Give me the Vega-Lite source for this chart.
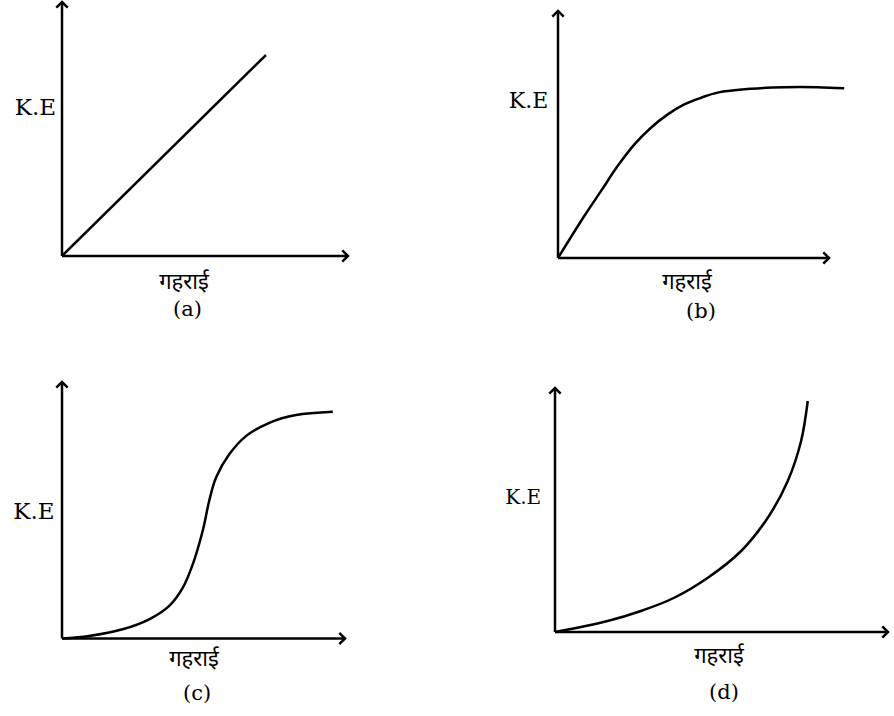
{
  "$schema": "https://vega.github.io/schema/vega-lite/v6.json",
  "background": "white",
  "padding": {"left": 12, "top": -3, "right": 4, "bottom": 8},
  "bounds": "flush",
  "columns": 2,
  "spacing": {"row": 124, "column": 210},
  "config": {
    "view": {"stroke": null},
    "title": {"font": "DejaVu Serif", "fontSize": 21, "fontWeight": "normal", "color": "black", "orient": "bottom", "anchor": "start", "frame": "group"},
    "line": {"color": "black", "strokeWidth": 2.5, "interpolate": "catmull-rom"},
    "rule": {"color": "black", "strokeWidth": 2.5},
    "point": {"filled": false, "color": "black", "strokeWidth": 2.5, "size": 130, "opacity": 1, "strokeJoin": "miter"}
  },
  "concat": [
    {
      "width": 286, "height": 254,
      "title": {"text": "(a)", "dx": 111, "offset": 7},
      "encoding": {
        "x": {"field": "depth", "type": "quantitative", "scale": {"domain": [0, 100], "nice": false, "zero": false},
          "axis": {"title": "गहराई", "domain": false, "ticks": false, "labels": false, "grid": false, "titleX": 121.5, "titleY": 25, "titleAlign": "center", "titleBaseline": "middle", "titleFont": "Noto Sans Devanagari, Lohit Devanagari, Noto Sans, sans-serif", "titleFontSize": 22, "titleFontWeight": "normal", "titleColor": "black"}},
        "y": {"field": "ke", "type": "quantitative", "scale": {"domain": [0, 100], "nice": false, "zero": false},
          "axis": {"title": "K.E", "domain": false, "ticks": false, "labels": false, "grid": false, "titleAngle": 0, "titleX": -27, "titleY": 105.5, "titleAlign": "center", "titleBaseline": "middle", "titleFont": "DejaVu Serif", "titleFontSize": 23, "titleFontWeight": "normal", "titleColor": "black"}}
      },
      "layer": [
        {
          "data": {"values": [
            {"axis": "x", "depth": 0, "ke": 0, "depth2": 100, "ke2": 0},
            {"axis": "y", "depth": 0, "ke": 0, "depth2": 0, "ke2": 100}
          ]},
          "mark": "rule",
          "encoding": {"x2": {"field": "depth2"}, "y2": {"field": "ke2"}}
        },
        {
          "data": {"values": [
            {"axis": "x", "depth": 100, "ke": 0},
            {"axis": "y", "depth": 0, "ke": 100}
          ]},
          "mark": "point",
          "encoding": {"shape": {"field": "axis", "type": "nominal", "legend": null,
            "scale": {"domain": ["x", "y"], "range": ["M-1,-1L0,0L-1,1", "M-1,1L0,0L1,1"]}}}
        },
        {
          "data": {"values": [
            {"depth": 0, "ke": 0},
            {"depth": 71.3, "ke": 79.1}
          ]},
          "mark": {"type": "line", "interpolate": "linear"}
        }
      ]
    },
    {
      "width": 271, "height": 256,
      "title": {"text": "(b)", "dx": 128, "offset": 9},
      "encoding": {
        "x": {"field": "depth", "type": "quantitative", "scale": {"domain": [0, 100], "nice": false, "zero": false},
          "axis": {"title": "गहराई", "domain": false, "ticks": false, "labels": false, "grid": false, "titleX": 128.5, "titleY": 23, "titleAlign": "center", "titleBaseline": "middle", "titleFont": "Noto Sans Devanagari, Lohit Devanagari, Noto Sans, sans-serif", "titleFontSize": 22, "titleFontWeight": "normal", "titleColor": "black"}},
        "y": {"field": "ke", "type": "quantitative", "scale": {"domain": [0, 100], "nice": false, "zero": false},
          "axis": {"title": "K.E", "domain": false, "ticks": false, "labels": false, "grid": false, "titleAngle": 0, "titleX": -30, "titleY": 98, "titleAlign": "center", "titleBaseline": "middle", "titleFont": "DejaVu Serif", "titleFontSize": 22, "titleFontWeight": "normal", "titleColor": "black"}}
      },
      "layer": [
        {
          "data": {"values": [
            {"axis": "x", "depth": 0, "ke": 0, "depth2": 100, "ke2": 0},
            {"axis": "y", "depth": 0, "ke": 0, "depth2": 0, "ke2": 96.5}
          ]},
          "mark": "rule",
          "encoding": {"x2": {"field": "depth2"}, "y2": {"field": "ke2"}}
        },
        {
          "data": {"values": [
            {"axis": "x", "depth": 100, "ke": 0},
            {"axis": "y", "depth": 0, "ke": 96.5}
          ]},
          "mark": "point",
          "encoding": {"shape": {"field": "axis", "type": "nominal", "legend": null,
            "scale": {"domain": ["x", "y"], "range": ["M-1,-1L0,0L-1,1", "M-1,1L0,0L1,1"]}}}
        },
        {
          "data": {"values": [
            {"depth": 0, "ke": 0},
            {"depth": 9.7, "ke": 16.4},
            {"depth": 15.9, "ke": 26.2},
            {"depth": 22.0, "ke": 35.9},
            {"depth": 28.2, "ke": 44.4},
            {"depth": 34.3, "ke": 50.9},
            {"depth": 40.5, "ke": 56.1},
            {"depth": 46.6, "ke": 60.0},
            {"depth": 52.8, "ke": 62.6},
            {"depth": 58.9, "ke": 64.6},
            {"depth": 71.2, "ke": 66.1},
            {"depth": 83.5, "ke": 66.7},
            {"depth": 95.8, "ke": 66.7},
            {"depth": 105.6, "ke": 66.3}
          ]},
          "mark": "line"
        }
      ]
    },
    {
      "width": 283, "height": 256.5,
      "title": {"text": "(c)", "dx": 121, "offset": 13},
      "encoding": {
        "x": {"field": "depth", "type": "quantitative", "scale": {"domain": [0, 100], "nice": false, "zero": false},
          "axis": {"title": "गहराई", "domain": false, "ticks": false, "labels": false, "grid": false, "titleX": 131.5, "titleY": 20, "titleAlign": "center", "titleBaseline": "middle", "titleFont": "Noto Sans Devanagari, Lohit Devanagari, Noto Sans, sans-serif", "titleFontSize": 22, "titleFontWeight": "normal", "titleColor": "black"}},
        "y": {"field": "ke", "type": "quantitative", "scale": {"domain": [0, 100], "nice": false, "zero": false},
          "axis": {"title": "K.E", "domain": false, "ticks": false, "labels": false, "grid": false, "titleAngle": 0, "titleX": -28.5, "titleY": 129, "titleAlign": "center", "titleBaseline": "middle", "titleFont": "DejaVu Serif", "titleFontSize": 23, "titleFontWeight": "normal", "titleColor": "black"}}
      },
      "layer": [
        {
          "data": {"values": [
            {"axis": "x", "depth": 0, "ke": 0, "depth2": 100, "ke2": 0},
            {"axis": "y", "depth": 0, "ke": 0, "depth2": 0, "ke2": 100}
          ]},
          "mark": "rule",
          "encoding": {"x2": {"field": "depth2"}, "y2": {"field": "ke2"}}
        },
        {
          "data": {"values": [
            {"axis": "x", "depth": 100, "ke": 0},
            {"axis": "y", "depth": 0, "ke": 100}
          ]},
          "mark": "point",
          "encoding": {"shape": {"field": "axis", "type": "nominal", "legend": null,
            "scale": {"domain": ["x", "y"], "range": ["M-1,-1L0,0L-1,1", "M-1,1L0,0L1,1"]}}}
        },
        {
          "data": {"values": [
            {"depth": 0, "ke": 0},
            {"depth": 9.6, "ke": 1.0},
            {"depth": 21.4, "ke": 3.6},
            {"depth": 30.8, "ke": 7.5},
            {"depth": 37.9, "ke": 12.7},
            {"depth": 42.7, "ke": 19.8},
            {"depth": 46.2, "ke": 28.9},
            {"depth": 49.7, "ke": 41.9},
            {"depth": 52.0, "ke": 53.6},
            {"depth": 54.4, "ke": 62.7},
            {"depth": 59.1, "ke": 71.8},
            {"depth": 65.0, "ke": 78.9},
            {"depth": 73.3, "ke": 84.1},
            {"depth": 82.7, "ke": 87.1},
            {"depth": 95.7, "ke": 88.4}
          ]},
          "mark": "line"
        }
      ]
    },
    {
      "width": 330, "height": 250,
      "title": {"text": "(d)", "dx": 151, "offset": 16},
      "encoding": {
        "x": {"field": "depth", "type": "quantitative", "scale": {"domain": [0.9, 100], "nice": false, "zero": false},
          "axis": {"title": "गहराई", "domain": false, "ticks": false, "labels": false, "grid": false, "titleX": 160.5, "titleY": 23, "titleAlign": "center", "titleBaseline": "middle", "titleFont": "Noto Sans Devanagari, Lohit Devanagari, Noto Sans, sans-serif", "titleFontSize": 22, "titleFontWeight": "normal", "titleColor": "black"}},
        "y": {"field": "ke", "type": "quantitative", "scale": {"domain": [0, 100], "nice": false, "zero": false},
          "axis": {"title": "K.E", "domain": false, "ticks": false, "labels": false, "grid": false, "titleAngle": 0, "titleX": -35.3, "titleY": 115.7, "titleAlign": "center", "titleBaseline": "middle", "titleFont": "DejaVu Serif", "titleFontSize": 20, "titleFontWeight": "normal", "titleColor": "black"}}
      },
      "layer": [
        {
          "data": {"values": [
            {"axis": "x", "depth": 0, "ke": 0, "depth2": 100, "ke2": 0},
            {"axis": "y", "depth": 0, "ke": 0, "depth2": 0, "ke2": 97.6}
          ]},
          "mark": "rule",
          "encoding": {"x2": {"field": "depth2"}, "y2": {"field": "ke2"}}
        },
        {
          "data": {"values": [
            {"axis": "x", "depth": 100, "ke": 0},
            {"axis": "y", "depth": 0, "ke": 97.6}
          ]},
          "mark": "point",
          "encoding": {"shape": {"field": "axis", "type": "nominal", "legend": null,
            "scale": {"domain": ["x", "y"], "range": ["M-1,-1L0,0L-1,1", "M-1,1L0,0L1,1"]}}}
        },
        {
          "data": {"values": [
            {"depth": 0, "ke": 0},
            {"depth": 15.8, "ke": 4.4},
            {"depth": 25.8, "ke": 8.4},
            {"depth": 35.8, "ke": 13.7},
            {"depth": 45.9, "ke": 21.7},
            {"depth": 55.9, "ke": 32.4},
            {"depth": 63.9, "ke": 45.7},
            {"depth": 69.9, "ke": 60.4},
            {"depth": 73.9, "ke": 76.4},
            {"depth": 75.9, "ke": 92.4}
          ]},
          "mark": "line"
        }
      ]
    }
  ]
}
